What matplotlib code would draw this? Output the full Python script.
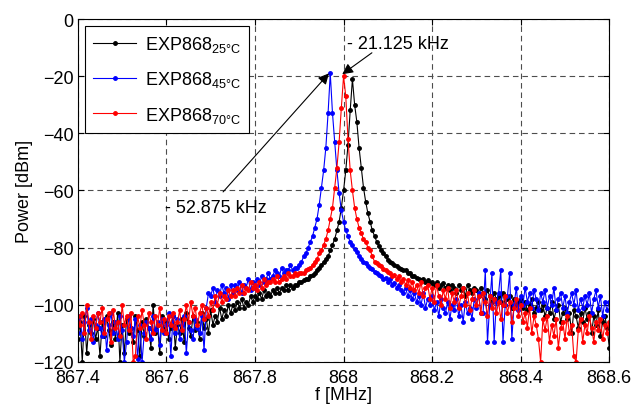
import numpy as np
import matplotlib
matplotlib.use('Agg')
import matplotlib.pyplot as plt

plt.rcParams['font.family'] = ['Liberation Sans', 'DejaVu Sans']
plt.rcParams['mathtext.fontset'] = 'custom'
plt.rcParams['mathtext.rm'] = 'Liberation Sans'

# sweep: 867.4 .. 868.6 MHz, 5 kHz steps (241 points)
f_start = 867.4
f_step = 0.005
n_points = 241

# power readings [dBm], 10 points per row
p_25 = [
    -112, -106, -120, -104, -117, -107, -110, -105, -112, -108,
    -118, -106, -111, -104, -109, -114, -106, -112, -103, -120,
    -107, -117, -105, -110, -108, -113, -104, -109, -118, -106,
    -111, -105, -108, -115, -100, -110, -107, -117, -104, -109,
    -106, -112, -108, -104, -115, -107, -110, -105, -113, -103,
    -108, -111, -104, -109, -106, -112, -103, -108, -105, -110,
    -102, -107, -104, -106, -101, -105, -102, -104, -100, -103,
    -100, -102, -99, -101, -98, -101, -99, -100, -97, -99,
    -97, -98, -96, -98, -95, -97, -96, -97, -95, -96,
    -94, -96, -94, -95, -93, -95, -93, -94, -93, -93,
    -92, -92, -91.5, -91, -91, -90, -89.5, -89, -88, -87,
    -86, -85, -84, -83, -81, -79, -77, -74, -71, -66,
    -60, -53, -44, -32, -21, -30, -36, -45, -52, -59,
    -64, -68, -71, -74, -76, -78, -79.5, -81, -82, -83,
    -84.5, -85, -85.5, -86, -86.5, -87, -87.5, -88, -88, -89,
    -89, -90, -90, -90.5, -91, -91.5, -91, -92, -91.5, -92.5,
    -92, -93, -92, -94, -93, -92.5, -94, -93, -95, -93,
    -94, -96, -93, -95, -94, -97, -93, -95, -96, -94,
    -95, -97, -94, -96, -98, -95, -97, -99, -96, -98,
    -97, -99, -96, -100, -98, -97, -101, -98, -100, -99,
    -98, -101, -99, -102, -100, -98, -103, -101, -99, -102,
    -100, -104, -101, -103, -99, -105, -102, -100, -106, -103,
    -101, -105, -103, -110, -102, -104, -108, -103, -106, -101,
    -105, -103, -110, -104, -107, -102, -111, -106, -104, -108,
    -115,
]

p_45 = [
    -110, -104, -112, -106, -101, -109, -105, -113, -107, -103,
    -108, -111, -105, -116, -107, -103, -110, -106, -112, -104,
    -109, -120, -113, -104, -108, -111, -105, -119, -107, -120,
    -110, -106, -108, -112, -104, -109, -106, -114, -105, -110,
    -107, -103, -118, -104, -110, -105, -112, -107, -104, -117,
    -106, -109, -112, -105, -108, -110, -104, -116, -101, -96,
    -97, -94, -99, -95, -97, -93, -96, -94, -98, -93,
    -96, -93, -95, -92, -96, -93, -94, -91, -95, -92,
    -94, -91, -93, -90, -92, -91, -89, -91, -90, -88,
    -89, -90, -87, -89, -88, -88, -86, -88, -87, -87,
    -86, -85, -83, -82, -80, -78, -76, -73, -70, -65,
    -59, -53, -45, -33, -19, -33, -43, -53, -61, -67,
    -71, -74, -76, -78, -79, -80.5, -81.5, -83, -84, -85,
    -85.5, -86.5, -87, -87.5, -88.5, -89, -89.5, -90, -91, -90.5,
    -92, -91, -93, -92.5, -94, -93, -95, -96, -94, -97,
    -95, -98, -96, -99, -97, -100, -96, -101, -98, -100,
    -97, -102, -99, -104, -98, -101, -103, -99, -105, -100,
    -102, -98, -104, -100, -106, -99, -103, -101, -105, -98,
    -101, -96, -103, -103, -88, -113, -100, -89, -113, -99,
    -96, -88, -113, -100, -97, -89, -112, -100, -94, -102,
    -97, -100, -94, -99, -96, -101, -95, -98, -102, -96,
    -99, -95, -101, -97, -100, -94, -102, -98, -96, -101,
    -97, -103, -99, -96, -100, -95, -102, -98, -101, -97,
    -100, -96, -103, -98, -95, -101, -97, -104, -99, -102,
    -99,
]

p_70 = [
    -104, -107, -103, -110, -100, -106, -112, -104, -108, -103,
    -106, -101, -110, -105, -103, -113, -102, -108, -106, -111,
    -100, -107, -104, -109, -103, -120, -118, -104, -108, -102,
    -107, -112, -103, -106, -110, -104, -107, -101, -109, -105,
    -110, -104, -107, -103, -108, -106, -102, -109, -105, -100,
    -106, -99, -104, -101, -107, -103, -100, -105, -101, -104,
    -99, -102, -97, -100, -96, -99, -97, -98, -95, -97,
    -95, -97, -94, -96, -93, -96, -94, -95, -92, -94,
    -93, -95, -92, -94, -91, -93, -92, -92, -91, -92,
    -90, -92, -91, -90, -91, -89, -90, -90, -89, -89.5,
    -89, -89, -89, -88, -87.5, -87, -86, -85, -84, -82,
    -81, -79, -77, -74, -70, -66, -59, -52, -43, -31,
    -20, -27, -42, -53, -60, -66, -70, -73, -75, -77,
    -78, -80, -81, -83, -85, -85.5, -86, -86.5, -87.5, -88,
    -88.5, -89, -90, -89.5, -91, -90, -92, -91, -93, -91.5,
    -94, -92, -95, -93, -96, -92, -97, -94, -93, -98,
    -94, -99, -93, -97, -100, -95, -98, -94, -101, -96,
    -99, -95, -101, -97, -94, -100, -96, -102, -98, -95,
    -100, -97, -103, -96, -99, -104, -97, -101, -98, -103,
    -99, -105, -100, -97, -103, -99, -106, -101, -98, -104,
    -100, -106, -103, -108, -101, -110, -104, -107, -112, -120,
    -105, -109, -104, -113, -107, -111, -105, -115, -108, -106,
    -112, -104, -110, -107, -118, -120, -109, -105, -113, -107,
    -110, -104, -108, -113, -106, -109, -105, -112, -107, -110,
    -106,
]

labels = [r'EXP868$_{\mathrm{25\degree C}}$',
          r'EXP868$_{\mathrm{45\degree C}}$',
          r'EXP868$_{\mathrm{70\degree C}}$']
colors = ['k', 'b', 'r']

freq = f_start + f_step * np.arange(n_points)

fig = plt.figure(figsize=(6.38, 4.10), dpi=100)
ax = fig.add_axes([0.122, 0.115, 0.833, 0.836])

for p, lab, c in zip([p_25, p_45, p_70], labels, colors):
    ax.plot(freq, p, color=c, marker='.', markersize=5, linewidth=0.8, label=lab)

ax.set_xlim(867.4, 868.6)
ax.set_ylim(-120, 0)
ax.set_xticks([867.4, 867.6, 867.8, 868.0, 868.2, 868.4, 868.6])
ax.set_xticklabels(['867.4', '867.6', '867.8', '868', '868.2', '868.4', '868.6'])
ax.set_yticks([0, -20, -40, -60, -80, -100, -120])
ax.tick_params(direction='in', top=True, right=True, labelsize=13, length=4)
ax.tick_params(axis='x', pad=5)
ax.tick_params(axis='y', pad=3)
ax.grid(True, linestyle=(0, (5, 3.5)), color='0.3', linewidth=0.8)
ax.set_xlabel('f [MHz]', fontsize=13, labelpad=0)
ax.set_ylabel('Power [dBm]', fontsize=13, labelpad=0)

# frequency offsets between the peaks
ax.text(868.008, -8.4, '- 21.125 kHz', fontsize=13, va='center', ha='left')
ax.annotate('', xy=(867.997, -19.3), xytext=(868.064, -11.8),
            arrowprops=dict(arrowstyle='-|>', color='k', lw=0.8,
                            mutation_scale=16, shrinkA=0, shrinkB=0))
ax.text(867.597, -65.8, '- 52.875 kHz', fontsize=13, va='center', ha='left')
ax.annotate('', xy=(867.967, -19.0), xytext=(867.728, -60.5),
            arrowprops=dict(arrowstyle='-|>', color='k', lw=0.8,
                            mutation_scale=16, shrinkA=0, shrinkB=0))

leg = ax.legend(loc='upper left', bbox_to_anchor=(0.0135, 0.98), borderaxespad=0,
                fontsize=13, fancybox=False, edgecolor='k', framealpha=1,
                numpoints=1, handlelength=2.4, handletextpad=0.5,
                labelspacing=0.85, borderpad=0.45)
leg.get_frame().set_linewidth(0.8)

plt.savefig('out.png', dpi=100)
